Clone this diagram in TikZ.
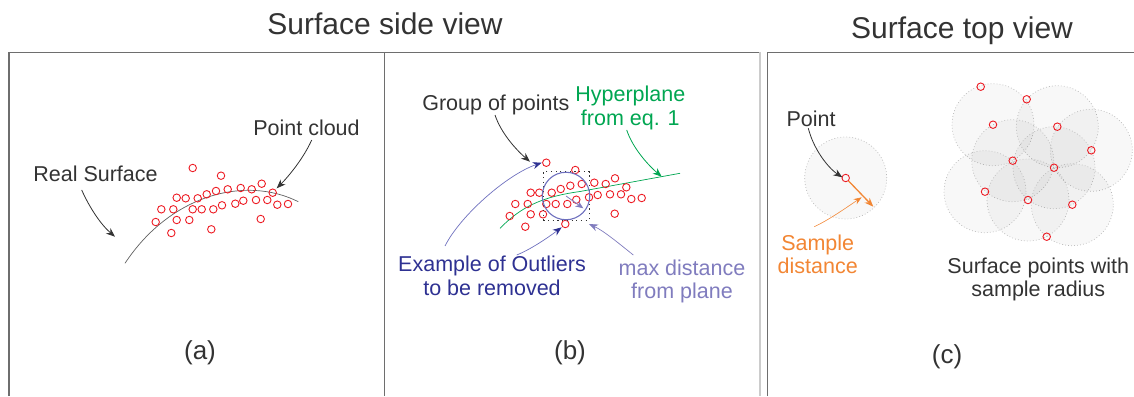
\documentclass[tikz,border=0pt]{standalone}
\usepackage{fontspec}
\setmainfont{Liberation Sans}
\usetikzlibrary{arrows.meta}
\definecolor{ptred}{RGB}{237,28,36}
\definecolor{txt}{RGB}{51,51,51}
\definecolor{hgreen}{RGB}{0,166,81}
\definecolor{dblue}{RGB}{46,49,146}
\definecolor{lblue}{RGB}{110,112,190}
\definecolor{viol}{RGB}{128,124,190}
\definecolor{orng}{RGB}{242,134,52}
\definecolor{frm}{RGB}{110,110,110}
\begin{document}
\begin{tikzpicture}[x=1pt,y=-1pt,
  cpt/.style={circle,draw=ptred,line width=0.9pt,minimum size=7.5pt,inner sep=0pt},
  lbl/.style={font=\fontsize{21.5}{23.3}\selectfont,text=txt,inner sep=0pt,anchor=base,align=center},
  ttl/.style={font=\fontsize{30}{32}\selectfont,text=txt,inner sep=0pt,anchor=base},
  sublbl/.style={font=\fontsize{26}{28}\selectfont,text=txt,inner sep=0pt},
  arr/.style={-{Stealth[length=9pt,width=7pt]},line width=0.8pt},
  areacirc/.style={circle,minimum size=82pt,inner sep=0pt,fill=black,fill opacity=0.028,draw=gray!55,draw opacity=1,dash pattern=on 0.8pt off 2.2pt,line width=0.7pt},
]
\useasboundingbox (0,0) rectangle (1134,396);
% frames
\draw[frm,line width=1.3pt] (9,396) -- (9,52.3) -- (759,52.3);
\draw[gray!40,line width=2pt] (760.3,52.3) -- (760.3,396);
\draw[frm,line width=1.3pt] (384.7,52.3) -- (384.7,396);
\draw[frm,line width=1.3pt] (767.3,396) -- (767.3,52.3) -- (1134,52.3);
% titles
\node[ttl] (t1) at (385,35) {Surface side view};
\node[ttl] (t2) at (962,38) {Surface top view};
\node[sublbl] (ca) at (200,353) {(a)};
\node[sublbl] (cb) at (570,353) {(b)};
\node[sublbl] (cc) at (947,357) {(c)};
% ---------- panel (a)
\draw[gray!75!black,line width=0.7pt] (125,263.3) .. controls (170,195) and (245,175) .. (298.3,201.7);
\foreach \p [count=\i] in {(192.7,168),(221,175.7),(176.7,197.7),(185.7,198.3),(197.7,198.3),(206.7,194.3),(216,191),(227.7,189.3),(240.7,188),(251.7,189.3),(261.7,183.7),(272.7,192.7),(161.3,209.3),(173.3,209.3),(192.7,209.3),(201.7,209.3),(213.3,209.3),(222,205.3),(235.3,203.7),(243.3,200.7),(256,200),(267.3,200),(277.3,204.7),(288,204),(155.7,222),(176.7,220),(189.3,220),(260.7,219),(171.3,233),(211.3,229.3)}
  \node[cpt] (a\i) at \p {};
\node[lbl] (rs) at (95.5,181.7) {Real Surface};
\node[lbl] (pc) at (306.5,135) {Point cloud};
\coordinate (rsA) at (81.7,190); \coordinate (rsB) at (115,236.7);
\coordinate (pcA) at (311.7,140); \coordinate (pcB) at (276.7,188.3);
\draw[arr,txt] (rsA) .. controls +(8,18) and +(-14,-12) .. (rsB);
\draw[arr,txt] (pcA) .. controls +(-8,18) and +(12,-12) .. (pcB);
% ---------- panel (b)
\draw[hgreen,line width=0.7pt] (500,228.3) .. controls (520,208) and (540,197) .. (580,191.5) -- (680,173.3);
\foreach \p [count=\i] in {(546.3,162.7),(575.3,170),(530.7,192.7),(539.3,192.7),(551.7,192.7),(560.7,189),(570.3,185.7),(581.7,184),(594.3,182.7),(605.7,184),(615,178.3),(626.3,187.3),(515.3,204),(527.7,204),(546.3,204),(555.7,204),(567.3,204),(576.3,199.7),(589,197.3),(597.7,195),(610,194.3),(621,194.3),(631.3,199),(641.7,198),(509.7,216),(530.7,214.3),(543,214.3),(614.7,213.7),(525.3,226.7),(565.3,224)}
  \node[cpt] (b\i) at \p {};
\node[draw=txt,dash pattern=on 1.2pt off 3.5pt,line width=0.9pt,minimum width=46pt,minimum height=48.3pt,inner sep=0pt] (grp) at (566.3,195.8) {};
\node[circle,draw=lblue,line width=1.1pt,minimum size=47.5pt,inner sep=0pt] (mdc) at (566,196) {};
\coordinate (inB) at (583.3,208.3);
\draw[-{Stealth[length=8pt,width=6.5pt]},viol,line width=0.8pt] (mdc.center) -- (inB);
\node[lbl] (gp) at (495.8,110.7) {Group of points};
\node[lbl,text=hgreen] (hp) at (630.3,125) {Hyperplane\\from eq. 1};
\node[lbl,text=dblue] (eo) at (492,295) {Example of Outliers\\to be removed};
\node[lbl,text=viol] (md) at (682,298.3) {max distance\\from plane};
\coordinate (gpA) at (495,115); \coordinate (gpB) at (530,161.7);
\coordinate (hpA) at (626.7,130); \coordinate (hpB) at (661.7,176.7);
\coordinate (e1A) at (445,246); \coordinate (e1B) at (541.7,162.7);
\coordinate (e2A) at (516.7,255); \coordinate (e2B) at (561.7,227.3);
\coordinate (mdA) at (633.3,255); \coordinate (mdB) at (589,224);
\draw[arr,txt] (gpA) .. controls +(6,18) and +(-14,-12) .. (gpB);
\draw[arr,hgreen] (hpA) .. controls +(6,18) and +(-14,-12) .. (hpB);
\draw[-{Stealth[length=9pt,width=7pt,color=dblue]},lblue,line width=0.7pt] (e1A) .. controls +(15,-30) and +(-35,12) .. (e1B);
\draw[-{Stealth[length=9pt,width=7pt,color=dblue]},lblue,line width=0.7pt] (e2A) .. controls +(15,-6) and +(-12,9) .. (e2B);
\draw[-{Stealth[length=9pt,width=7pt,color=viol]},viol,line width=0.7pt] (mdA) .. controls +(-15,-12) and +(15,7) .. (mdB);
% ---------- panel (c)
\node[areacirc] (s0) at (845.7,178) {};
\node[cpt] (c0) at (845.7,178) {};
\foreach \p/\n in {(993,124.7)/3,(1057.3,126.7)/4,(1091.3,150.3)/5,(1012.7,160.7)/6,(1054,167.7)/7,(985,191.7)/8,(1028,200)/9,(1072.3,204.7)/10}
  \node[areacirc] (r\n) at \p {};
\foreach \p [count=\i] in {(980.7,86.7),(1026.7,99.3),(993,124.7),(1057.3,126.7),(1091.3,150.3),(1012.7,160.7),(1054,167.7),(985,191.7),(1028,200),(1072.3,204.7),(1046.7,236.7)}
  \node[cpt] (c\i) at \p {};
\node[lbl] (ptl) at (811,126.7) {Point};
\node[lbl,text=orng] (sd) at (817.7,273.3) {Sample\\distance};
\node[lbl] (sp) at (1038.3,296.7) {Surface points with\\sample radius};
\coordinate (ptA) at (808.3,128.3); \coordinate (ptB) at (842.3,177.3);
\coordinate (sdA) at (814.3,226.7); \coordinate (sdB) at (861.7,197.3);
\coordinate (orE) at (873.3,206.7);
\draw[arr,txt] (ptA) .. controls +(5,20) and +(-15,-10) .. (ptB);
\draw[-{Stealth[length=8pt,width=6pt]},orng,line width=0.6pt] (sdA) .. controls +(15,-7) and +(-15,10) .. (sdB);
\draw[-{Stealth[length=9pt,width=7pt]},orng,line width=1.3pt] (c0) -- (orE);
\end{tikzpicture}
\end{document}
